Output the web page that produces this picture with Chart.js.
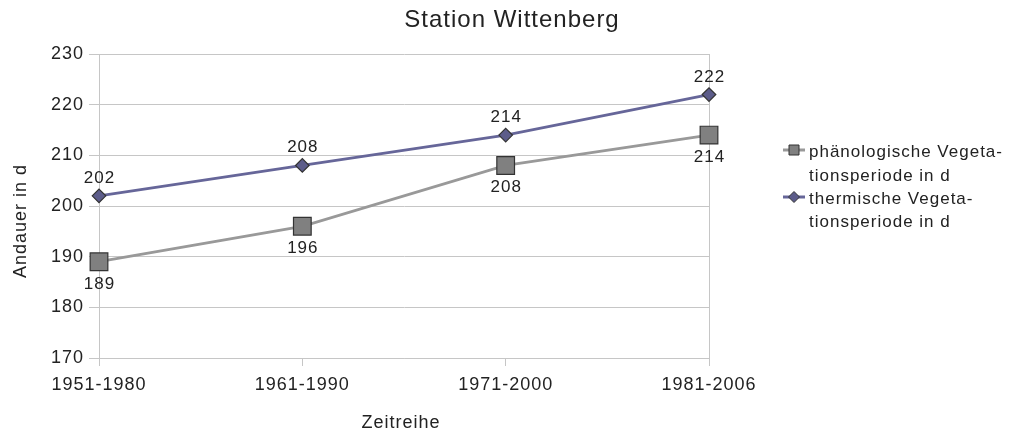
<!DOCTYPE html>
<html><head><meta charset="utf-8">
<script src="https://cdn.jsdelivr.net/npm/chart.js@4/dist/chart.umd.min.js"></script>
<style>html,body{margin:0;padding:0;background:#fff}#wrap{width:1014px;height:431px;position:relative}</style>
</head><body><div id="wrap"><canvas id="c" width="1014" height="431"></canvas></div>
<script>
const categories = ["1951-1980", "1961-1990", "1971-2000", "1981-2006"];
const phaenologisch = [189, 196, 208, 214];
const thermisch = [202, 208, 214, 222];
const seriesNames = [["phänologische Vegeta-", "tionsperiode in d"], ["thermische Vegeta-", "tionsperiode in d"]];
const yTicks = [170, 180, 190, 200, 210, 220, 230];
const titleText = "Station Wittenberg";
const xTitle = "Zeitreihe";
const yTitle = "Andauer in d";

const FONT = "'Liberation Sans', Arial, sans-serif";
const gridCol = "#c6c6c6";
const textCol = "#222222";

const spacing = {
  id: 'spacing',
  beforeDraw(chart) { try { chart.ctx.letterSpacing = '1px'; } catch (e) {} }
};

const extras = {
  id: 'extras',
  afterDatasetsDraw(chart) {
    const ctx = chart.ctx;
    ctx.save();
    try { ctx.letterSpacing = '1px'; } catch (e) {}
    ctx.fillStyle = textCol;
    ctx.textAlign = 'center';
    ctx.textBaseline = 'alphabetic';
    ctx.font = "17px " + FONT;
    const m0 = chart.getDatasetMeta(0), m1 = chart.getDatasetMeta(1);
    m0.data.forEach((p, i) => ctx.fillText(String(phaenologisch[i]), p.x + 0.5, p.y + 27));
    m1.data.forEach((p, i) => ctx.fillText(String(thermisch[i]), p.x + 0.5, p.y - 13));
    // title
    ctx.font = "24px " + FONT;
    ctx.fillText(titleText, 512, 27);
    // axis titles
    ctx.font = "18px " + FONT;
    ctx.fillText(xTitle, 401, 428);
    ctx.save();
    ctx.translate(25.5, 221);
    ctx.rotate(-Math.PI / 2);
    ctx.fillText(yTitle, 0, 0);
    ctx.restore();
    // legend
    ctx.font = "17px " + FONT;
    ctx.textAlign = 'left';
    const entries = [
      {y: 150, base: 157, line: '#999999', fill: '#808080', type: 'rect'},
      {y: 197, base: 203.5, line: '#666699', fill: '#5c5c8a', type: 'diamond'}
    ];
    entries.forEach((e, k) => {
      ctx.strokeStyle = e.line; ctx.lineWidth = 3;
      ctx.beginPath(); ctx.moveTo(783, e.y); ctx.lineTo(805, e.y); ctx.stroke();
      ctx.fillStyle = e.fill; ctx.strokeStyle = '#333'; ctx.lineWidth = 1;
      ctx.beginPath();
      if (e.type === 'rect') { ctx.rect(789, e.y - 5, 10, 10); }
      else { ctx.moveTo(794, e.y - 5.5); ctx.lineTo(799.5, e.y); ctx.lineTo(794, e.y + 5.5); ctx.lineTo(788.5, e.y); ctx.closePath(); }
      ctx.fill(); ctx.stroke();
      ctx.fillStyle = textCol;
      ctx.fillText(seriesNames[k][0], 809, e.base);
      ctx.fillText(seriesNames[k][1], 809, e.base + 23.5);
    });
    ctx.restore();
  }
};

new Chart(document.getElementById('c'), {
  type: 'line',
  data: {
    labels: categories,
    datasets: [
      { label: seriesNames[0].join(''), data: phaenologisch, borderColor: '#999999', borderWidth: 2.8,
        pointStyle: 'rect', pointRadius: 12.5, pointBackgroundColor: '#808080', pointBorderColor: '#333333', pointBorderWidth: 1.2, tension: 0 },
      { label: seriesNames[1].join(''), data: thermisch, borderColor: '#666699', borderWidth: 2.8,
        pointStyle: 'rectRot', pointRadius: 6.8, pointBackgroundColor: '#5c5c8a', pointBorderColor: '#333333', pointBorderWidth: 1.2, tension: 0 }
    ]
  },
  options: {
    responsive: false, animation: false, maintainAspectRatio: false,
    layout: { padding: { left: 0, right: 305, top: 54, bottom: 0 } },
    plugins: { legend: { display: false }, tooltip: { enabled: false }, title: { display: false } },
    scales: {
      x: {
        offset: false,
        grid: {
          color: c => (c.index === categories.length - 1) ? gridCol : 'rgba(0,0,0,0)',
          tickColor: gridCol, tickLength: 8, drawTicks: true
        },
        border: { color: gridCol },
        ticks: { color: textCol, font: { size: 18, family: FONT }, padding: 8, maxRotation: 0, autoSkip: false },
        afterFit(s) { s.height = 73; }
      },
      y: {
        min: 170, max: 230,
        afterBuildTicks(s) { s.ticks = yTicks.map(v => ({value: v})); },
        grid: { color: gridCol, tickLength: 10 },
        border: { color: gridCol },
        ticks: { color: textCol, font: { size: 18, family: FONT }, padding: 5 },
        afterFit(s) { s.width = 99; }
      }
    }
  },
  plugins: [spacing, extras]
});
</script></body></html>
